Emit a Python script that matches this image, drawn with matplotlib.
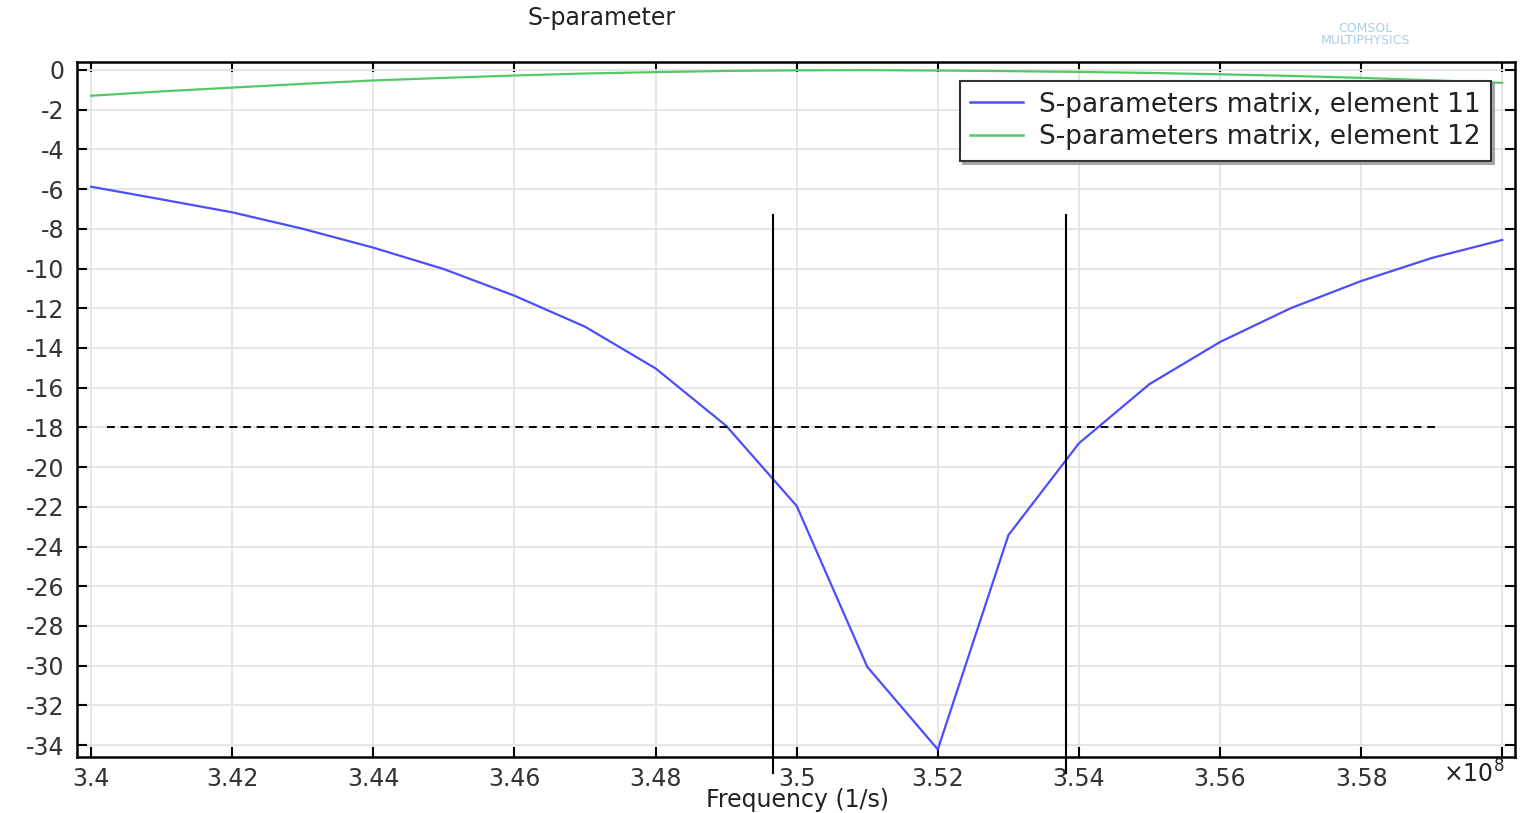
import matplotlib
matplotlib.use("Agg")
import matplotlib.pyplot as plt

plt.rcParams['font.family'] = ['DejaVu Sans']
plt.rcParams['axes.unicode_minus'] = False

# Frequency in units of 1e8 1/s
freq = [3.40, 3.41, 3.42, 3.43, 3.44, 3.45, 3.46, 3.47, 3.48, 3.49, 3.50,
        3.51, 3.52, 3.53, 3.54, 3.55, 3.56, 3.57, 3.58, 3.59, 3.60]
s11 = [-5.88, -6.52, -7.17, -8.0, -8.95, -10.03, -11.37, -12.93, -15.03, -17.92, -21.96,
       -30.06, -34.22, -23.43, -18.8, -15.82, -13.7, -12.0, -10.63, -9.47, -8.56]
s12 = [-1.30, -1.08, -0.89, -0.70, -0.53, -0.40, -0.28, -0.18, -0.11, -0.05, -0.02,
       -0.01, -0.03, -0.06, -0.10, -0.15, -0.22, -0.30, -0.40, -0.52, -0.65]
marker_f = [3.4967, 3.5381]
marker_y = [-7.3, -35.4]
threshold = -18
threshold_f = [3.4023, 3.5909]
xticks = [3.40, 3.42, 3.44, 3.46, 3.48, 3.50, 3.52, 3.54, 3.56, 3.58, 3.60]
xticklabels = ['3.4', '3.42', '3.44', '3.46', '3.48', '3.5', '3.52', '3.54', '3.56', '3.58', '']
yticks = list(range(0, -35, -2))

fig = plt.figure(figsize=(15.23, 8.13), dpi=100)
ax = fig.add_axes([77/1523, 1-757/813, (1515-77)/1523, (757-62)/813])

ax.plot(freq, s11, color='#4d4dff', lw=1.6, label='S-parameters matrix, element 11')
ax.plot(freq, s12, color='#55c866', lw=1.6, label='S-parameters matrix, element 12')
for f in marker_f:
    ax.plot([f, f], marker_y, color='black', lw=1.5, clip_on=False)
ax.plot(threshold_f, [threshold, threshold], color='black', lw=1.4, ls=(0, (4, 3)))

ax.set_xlim(3.398, 3.6018)
ax.set_ylim(-34.6, 0.4)
ax.set_xticks(xticks)
ax.set_xticklabels(xticklabels)
ax.set_yticks(yticks)
ax.set_yticklabels([str(v) for v in yticks])
ax.grid(True, color='#e3e3e3', lw=1.3)
ax.set_axisbelow(True)
ax.tick_params(direction='in', length=7, width=1.5, top=True, right=True,
               labelsize=17, colors='black', labelcolor='#333333')
ax.tick_params(axis='y', pad=9)
ax.tick_params(axis='x', pad=7)
for s in ax.spines.values():
    s.set_linewidth(1.8)

leg = ax.legend(loc='upper right', bbox_to_anchor=((1491-77)/(1515-77), (757-81)/(757-62)),
                fontsize=19, frameon=True, fancybox=False,
                shadow={'ox': 2.5, 'oy': -2.5, 'color': '#9a9a9a', 'alpha': 0.8},
                handlelength=2.0, borderpad=0.4, labelspacing=0.25, handletextpad=0.6,
                borderaxespad=0)
leg.get_frame().set_edgecolor('#333333')
leg.get_frame().set_linewidth(1.5)
for t in leg.get_texts():
    t.set_color('#222222')
for h in leg.get_lines():
    h.set_linewidth(1.8)

fig.text(602/1523, 1-18/813, 'S-parameter', ha='center', va='center', fontsize=17, color='#222222')
fig.text(797/1523, 1-800/813, 'Frequency (1/s)', ha='center', va='center', fontsize=17, color='#222222')
fig.text(1474/1523, 1-774/813, r'$\times10^8$', ha='center', va='center', fontsize=17, color='#222222')
fig.text(1365/1523, 1-34/813, 'COMSOL\nMULTIPHYSICS', ha='center', va='center', fontsize=9,
         color='#a8d0e6', linespacing=0.9)

fig.savefig('out.png', dpi=100)
